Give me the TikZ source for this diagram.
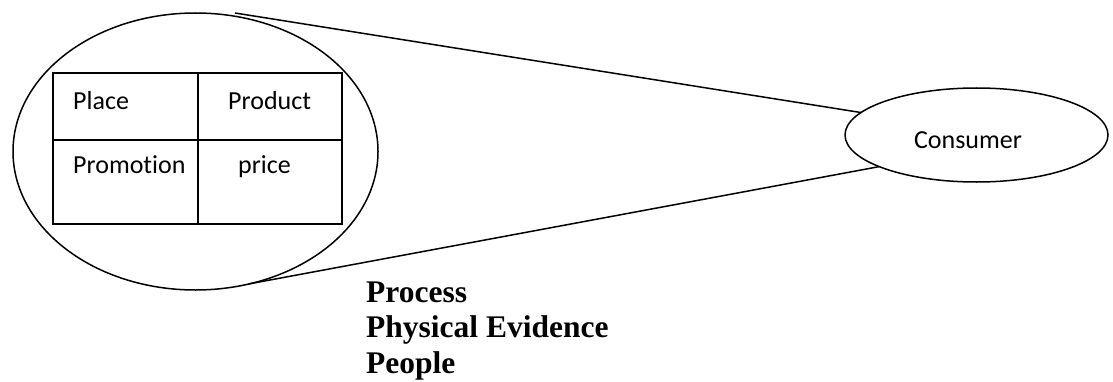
\documentclass[tikz,border=0pt]{standalone}
\usepackage{fontspec}
\usetikzlibrary{shapes.geometric}
\newfontfamily\calib[Ligatures={NoCommon}]{Carlito}
\newfontfamily\tnr{Liberation Serif}
\begin{document}
\begin{tikzpicture}[x=1pt,y=1pt,
  ln/.style={line width=1.5pt, black},
  oval/.style={ellipse, draw, ln, inner sep=0pt, outer sep=0pt},
  cell/.style={anchor=base west, inner sep=0pt, font=\calib\fontsize{26}{31}\selectfont},
  pp/.style={anchor=base west, inner sep=0pt, font=\tnr\bfseries\fontsize{31.5}{35.5}\selectfont}]
\useasboundingbox (0,0) rectangle (1113,381);
% big ellipse
\node[oval, minimum width=365pt, minimum height=277pt] (big) at (195.5,229.5) {};
% table
\draw[line width=1.6pt] (53,308) rectangle (342,157);
\draw[line width=1.6pt] (198,308) -- (198,157);
\draw[line width=1.6pt] (53,241) -- (342,241);
\node[cell] (place) at (73,272) {Place};
\node[cell] (product) at (228,272) {Product};
\node[cell] (promo) at (73,208) {Promotion};
\node[cell] (price) at (238,208) {price};
% consumer
\node[oval, minimum width=263pt, minimum height=94pt] (cons) at (976.5,246) {};
\node[anchor=base, inner sep=0pt, font=\calib\fontsize{26}{31}\selectfont] (ctext) at (968,233) {Consumer};
% connectors
\coordinate (topstart) at (235,368);
\draw[ln] (topstart) -- (cons.169.3);
\draw[ln] (big.-68.4) -- (cons.198.3);
% labels
\node[pp] (process) at (366,79) {Process};
\node[pp] (phys) at (366,43.5) {Physical Evidence};
\node[pp] (people) at (366,8) {People};
\end{tikzpicture}
\end{document}
